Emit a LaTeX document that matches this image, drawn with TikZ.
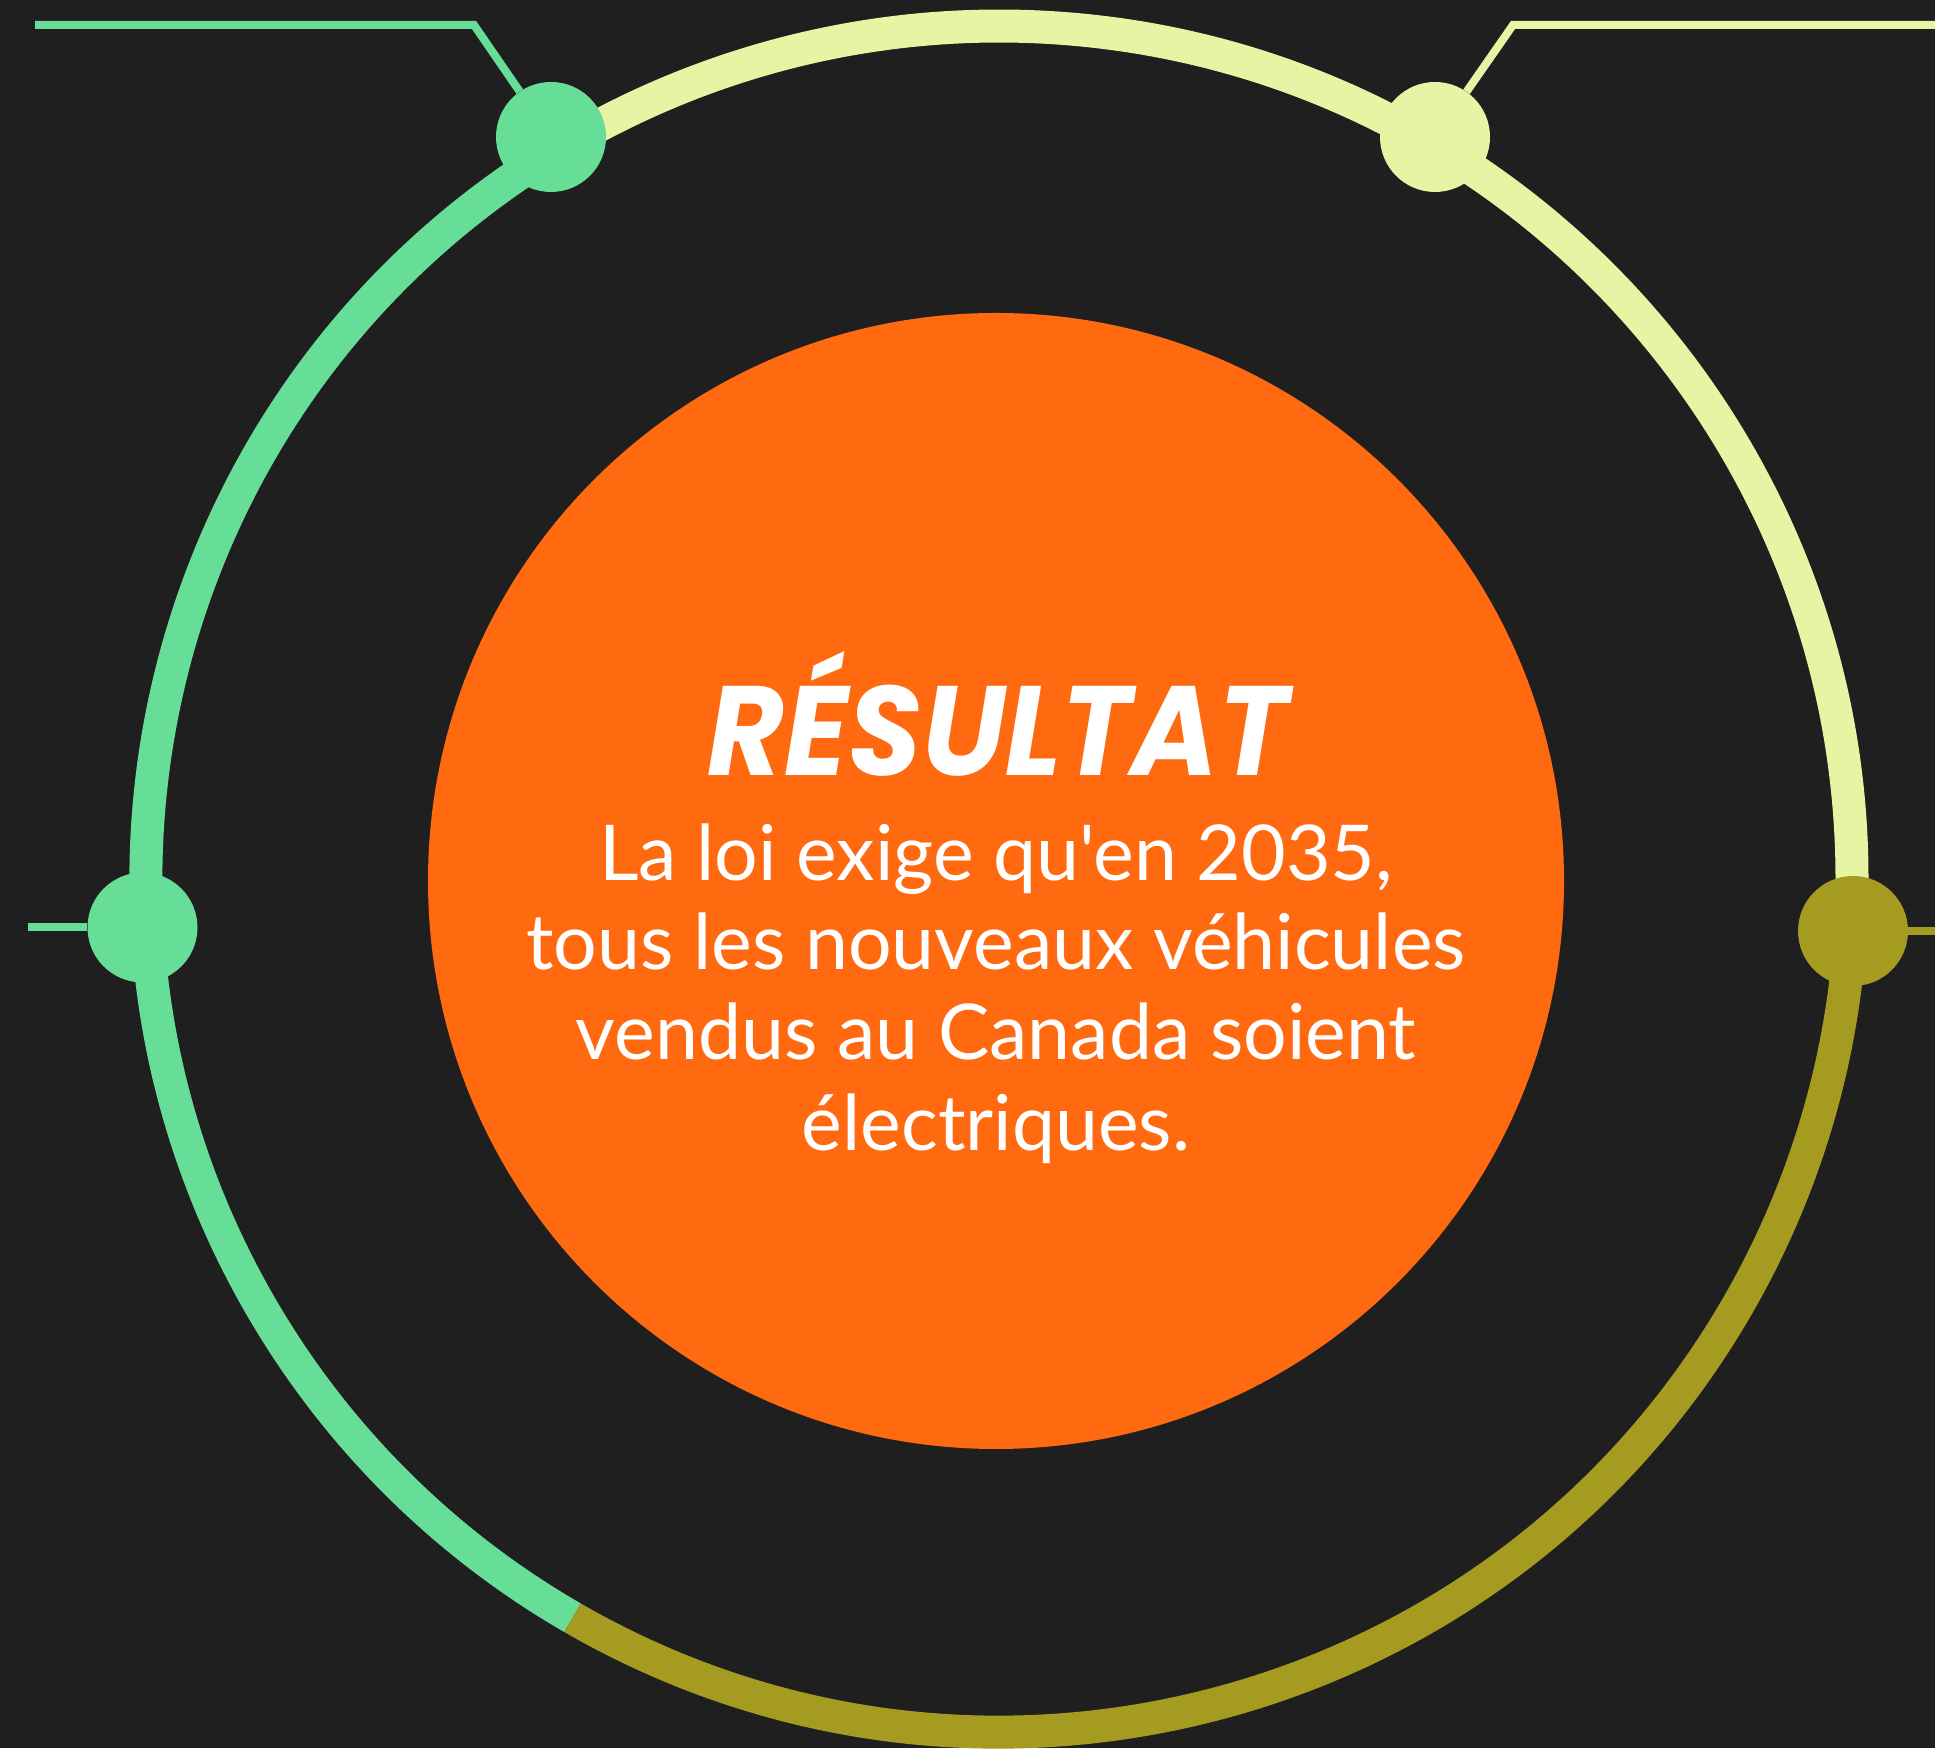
\documentclass[tikz,border=0pt]{standalone}
\usepackage{fontspec}
\usepackage{graphicx}
\setmainfont{Lato}[Ligatures=TeXOff]
\newfontfamily\titlefont{Poppins}
\definecolor{bgc}{HTML}{1F1F1F}
\definecolor{ringgreen}{HTML}{66DE97}
\definecolor{ringyellow}{HTML}{E5F5A3}
\definecolor{ringolive}{HTML}{A59B20}
\definecolor{coreorange}{HTML}{FF6A10}
\begin{document}
\begin{tikzpicture}[x=1pt,y=1pt,
  ringseg/.style={line width=33pt, line cap=butt},
  dot/.style={circle, minimum size=110pt, inner sep=0pt},
  leader/.style={line width=8pt},
  bodytext/.style={text=white, font=\fontsize{77}{90}\selectfont, anchor=base, inner sep=0pt}]
\fill[bgc] (0,0) rectangle (1935,1748);
\useasboundingbox (0,0) rectangle (1935,1748);
\coordinate (C) at (999,869);
\node[circle, fill=coreorange, minimum size=1136pt, inner sep=0pt] (core) at (996,867) {};
\draw[ringseg, ringgreen] (C) ++(121:853) arc[start angle=121,end angle=240,radius=853];
\draw[ringseg, ringolive] (C) ++(240:853) arc[start angle=240,end angle=356.5,radius=853];
\draw[ringseg, ringyellow] (C) ++(-3.5:853) arc[start angle=-3.5,end angle=121,radius=853];
% leader lines
\coordinate (tlend) at (35,1723);
\coordinate (tlbend) at (474,1723);
\coordinate (trend) at (1935,1723);
\coordinate (trbend) at (1513,1723);
\coordinate (lend) at (28,820.5);
\coordinate (rend) at (1935,817);
\node[dot, fill=ringgreen] (tl) at (551,1611) {};
\node[dot, fill=ringyellow] (tr) at (1435,1611) {};
\node[dot, fill=ringgreen] (l) at (142.5,820.5) {};
\node[dot, fill=ringolive] (r) at (1853,817) {};
\draw[leader, ringgreen] (tlend) -- (tlbend) -- (tl);
\draw[leader, ringyellow] (trend) -- (trbend) -- (tr);
\draw[leader, ringgreen] (lend) -- (l);
\draw[leader, ringolive] (r) -- (rend);
% texts
\node[text=white, anchor=base, inner sep=0pt] (title) at (998,972)
  {\resizebox{580pt}{124pt}{\titlefont\bfseries\itshape RÉSULTAT}};
\node[bodytext] (t1) at (996,867) {La loi exige qu'en 2035,};
\node[bodytext] (t2) at (996,778) {tous les nouveaux véhicules};
\node[bodytext] (t3) at (996,688) {vendus au Canada soient};
\node[bodytext] (t4) at (996,597) {électriques.};
\end{tikzpicture}
\end{document}
